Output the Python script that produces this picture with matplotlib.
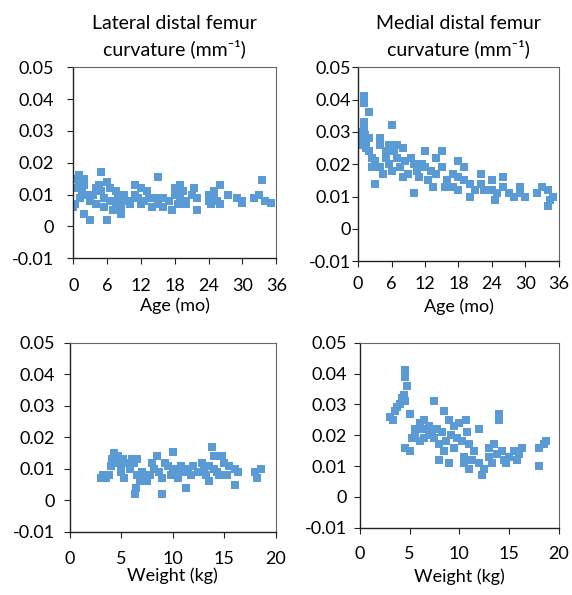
import matplotlib
matplotlib.use("Agg")
import matplotlib.pyplot as plt

plt.rcParams['font.family'] = ['Lato', 'DejaVu Sans']

# Lateral curvature vs age
age_lat = [0, 0.3, 0.5, 0.7, 1, 1, 1.2, 1.5, 2, 2, 2, 2.5, 3, 3, 3.5, 4, 4, 4.5, 5, 5,
           5.5, 5.5, 6, 6, 6.5, 6.5, 7, 7.5, 7.5, 8, 8.5, 8.5, 9, 9, 10, 10, 11, 11, 11.5, 12,
           12, 12.5, 13, 13.5, 14, 14.5, 15, 15, 16, 16, 17, 17.5, 18, 18, 18.5, 19, 19, 19.5, 20, 20,
           21, 21.5, 22, 22, 24, 24, 24.5, 25, 25, 25.5, 26, 26, 27.5, 29, 30, 30, 32, 33, 33.5, 34, 35]
curv_lat_age = [0.006, 0.007, 0.012, 0.015, 0.016, 0.013, 0.009, 0.011, 0.015, 0.013, 0.004, 0.010, 0.008, 0.002, 0.010, 0.012, 0.007, 0.013, 0.017, 0.011,
                0.009, 0.006, 0.014, 0.002, 0.012, 0.008, 0.005, 0.011, 0.007, 0.009, 0.006, 0.004, 0.010, 0.008, 0.008, 0.007, 0.013, 0.010, 0.009, 0.012,
                0.007, 0.008, 0.011, 0.009, 0.006, 0.009, 0.0155, 0.007, 0.009, 0.006, 0.008, 0.005, 0.012, 0.010, 0.007, 0.013, 0.009, 0.011, 0.008, 0.007,
                0.010, 0.012, 0.005, 0.009, 0.010, 0.008, 0.007, 0.011, 0.009, 0.008, 0.013, 0.007, 0.010, 0.009, 0.008, 0.0075, 0.009, 0.010, 0.0145, 0.008, 0.0075]

# Medial curvature vs age
age_med = [0, 0, 0.3, 0.5, 1, 1, 1, 1, 1.2, 1.5, 1.5, 2, 2, 2, 2.5, 2.5, 3, 3, 4, 4,
           4, 4.5, 5, 5, 5.5, 5.5, 6, 6, 6.5, 7, 7, 7.5, 8, 8, 8.5, 9, 9.5, 10, 10, 10.5,
           11, 11.5, 12, 12, 12.5, 13, 13.5, 14, 14, 15, 15, 15.5, 16, 17, 17, 18, 18, 18, 19, 19,
           20, 20, 21, 22, 22, 22.5, 24, 24, 24.5, 25, 26, 26, 27, 28, 29, 29, 30, 32, 33, 34,
           34, 34.5, 35]
curv_med_age = [0.030, 0.027, 0.028, 0.026, 0.041, 0.039, 0.033, 0.031, 0.029, 0.027, 0.025, 0.036, 0.028, 0.024, 0.022, 0.019, 0.014, 0.021, 0.028, 0.026,
                0.019, 0.017, 0.024, 0.022, 0.026, 0.020, 0.018, 0.032, 0.024, 0.022, 0.026, 0.019, 0.025, 0.016, 0.021, 0.017, 0.022, 0.011, 0.020, 0.018,
                0.016, 0.020, 0.024, 0.019, 0.015, 0.018, 0.013, 0.022, 0.017, 0.024, 0.019, 0.013, 0.015, 0.017, 0.013, 0.021, 0.016, 0.012, 0.019, 0.015,
                0.014, 0.010, 0.012, 0.017, 0.014, 0.012, 0.015, 0.012, 0.009, 0.011, 0.016, 0.013, 0.011, 0.010, 0.013, 0.011, 0.010, 0.011, 0.013, 0.012,
                0.007, 0.009, 0.010]

# Lateral curvature vs weight
wt_lat = [3, 3.2, 3.5, 3.8, 4, 4.1, 4.3, 4.5, 4.7, 5, 5, 5.2, 5.3, 5.5, 5.8, 6, 6.2, 6.3, 6.4, 6.5,
          6.5, 6.8, 7, 7.2, 7.5, 7.8, 8, 8.2, 8.5, 8.7, 9, 9, 9.2, 9.5, 9.8, 10, 10, 10.3, 10.5, 10.8,
          11, 11.3, 11.5, 11.8, 12, 12.5, 12.8, 13, 13.2, 13.5, 13.5, 13.8, 14, 14, 14.3, 14.5, 14.8, 15, 15.3, 15.5,
          16, 16, 16.3, 18, 18.2, 18.6]
curv_lat_wt = [0.007, 0.008, 0.007, 0.008, 0.011, 0.013, 0.015, 0.012, 0.014, 0.011, 0.009, 0.013, 0.007, 0.012, 0.010, 0.013, 0.012, 0.002, 0.004, 0.013,
               0.008, 0.006, 0.009, 0.008, 0.006, 0.008, 0.012, 0.010, 0.014, 0.009, 0.002, 0.007, 0.012, 0.011, 0.008, 0.0155, 0.010, 0.009, 0.007, 0.011,
               0.009, 0.004, 0.010, 0.008, 0.011, 0.009, 0.012, 0.010, 0.008, 0.011, 0.006, 0.017, 0.014, 0.010, 0.009, 0.008, 0.014, 0.012, 0.008, 0.011,
               0.010, 0.005, 0.009, 0.009, 0.007, 0.010]

# Medial curvature vs weight
wt_med = [3, 3.3, 3.5, 3.7, 4, 4.2, 4.4, 4.5, 4.5, 4.5, 4.7, 4.5, 5, 5, 5.2, 5.5, 5.5, 6, 6, 6.3,
          6.5, 6.5, 7, 7, 7.3, 7.5, 7.5, 7.8, 8, 8, 8.3, 8.5, 8.5, 8.7, 9, 9, 9.2, 9.5, 9.5, 9.8,
          10, 10.3, 10.5, 10.5, 10.7, 10.8, 11, 11, 11.3, 11.5, 12, 12, 12.3, 12.5, 13, 13, 13.3, 13.5, 13.8, 14,
          14, 14.3, 14.5, 14.7, 15, 15.5, 15.8, 16, 16.3, 18, 18, 18.5, 18.7]
curv_med_wt = [0.026, 0.025, 0.028, 0.029, 0.030, 0.032, 0.033, 0.041, 0.039, 0.031, 0.036, 0.016, 0.027, 0.015, 0.019, 0.020, 0.022, 0.024, 0.018, 0.022,
               0.025, 0.019, 0.021, 0.023, 0.020, 0.031, 0.019, 0.022, 0.017, 0.012, 0.021, 0.028, 0.015, 0.018, 0.025, 0.011, 0.020, 0.023, 0.016, 0.019,
               0.024, 0.018, 0.013, 0.011, 0.025, 0.021, 0.017, 0.009, 0.012, 0.015, 0.022, 0.011, 0.007, 0.009, 0.013, 0.016, 0.011, 0.017, 0.014, 0.027,
               0.025, 0.015, 0.012, 0.011, 0.013, 0.015, 0.012, 0.014, 0.016, 0.016, 0.010, 0.017, 0.018]

y_ticks = [-0.01, 0, 0.01, 0.02, 0.03, 0.04, 0.05]
y_labels = ["-0.01", "0", "0.01", "0.02", "0.03", "0.04", "0.05"]
age_ticks = [0, 6, 12, 18, 24, 30, 36]
wt_ticks = [0, 5, 10, 15, 20]

blue = "#5b9bd5"

fig = plt.figure(figsize=(5.72, 5.95), dpi=100)
axes = [
    fig.add_axes([0.128, 0.566, 0.355, 0.321]),
    fig.add_axes([0.626, 0.561, 0.351, 0.326]),
    fig.add_axes([0.122, 0.106, 0.360, 0.318]),
    fig.add_axes([0.629, 0.113, 0.348, 0.311]),
]

# x data, y data, x ticks, x label, title, y pad, x pad, label pad
panels = [
    (age_lat, curv_lat_age, age_ticks, "Age (mo)", "Lateral distal femur\ncurvature (mm\u207b\u00b9)", 10, 10, 3),
    (age_med, curv_med_age, age_ticks, "Age (mo)", "Medial distal femur\ncurvature (mm\u207b\u00b9)", 1, 7, 4),
    (wt_lat, curv_lat_wt, wt_ticks, "Weight (kg)", None, 7, 10, 0),
    (wt_med, curv_med_wt, wt_ticks, "Weight (kg)", None, 5, 9, 5),
]

for ax, (x, y, xt, xlab, title, ypad, xpad, lpad) in zip(axes, panels):
    ax.scatter(x, y, marker="s", s=36, color=blue, linewidths=0)
    ax.set_xlim(xt[0], xt[-1])
    ax.set_ylim(-0.01, 0.05)
    ax.set_xticks(xt)
    ax.set_yticks(y_ticks)
    ax.set_yticklabels(y_labels)
    ax.tick_params(labelsize=13, length=4, direction="out", color="#222222")
    ax.tick_params(axis="y", pad=ypad)
    ax.tick_params(axis="x", pad=xpad)
    ax.set_xlabel(xlab, fontsize=13, labelpad=lpad)
    for s in ["left", "bottom"]:
        ax.spines[s].set_color("#222222")
        ax.spines[s].set_linewidth(1.0)
    for s in ["top", "right"]:
        ax.spines[s].set_color("#666666")
        ax.spines[s].set_linewidth(0.8)
    if title:
        ax.set_title(title, fontsize=14, pad=9, linespacing=1.45)

fig.savefig("out.png", dpi=100)
